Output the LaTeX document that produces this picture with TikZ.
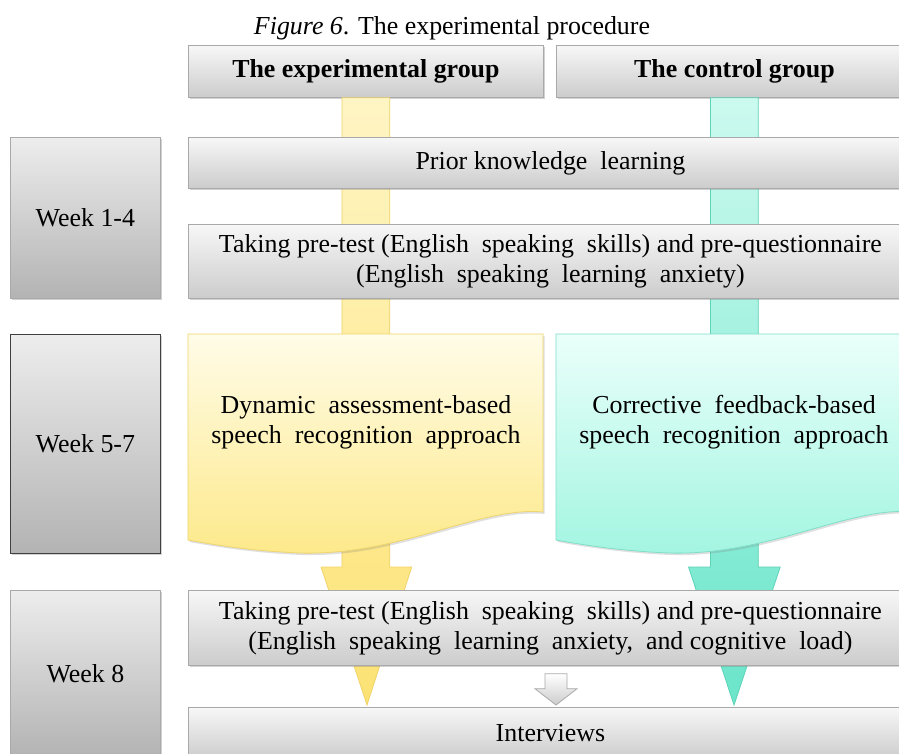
\documentclass[tikz,border=0pt]{standalone}
\usepackage{fontspec}
\setmainfont{Liberation Serif}
\setsansfont{Liberation Serif}
\newfontfamily\figserif{Liberation Serif}
\usetikzlibrary{shadows,calc}
\definecolor{bline}{HTML}{A9A9A9}
\definecolor{gtop}{HTML}{F7F7F7}
\definecolor{gbot}{HTML}{CCCCCC}
\definecolor{wtop}{HTML}{EDEDED}
\definecolor{wbot}{HTML}{B3B3B3}
\definecolor{ydtop}{HTML}{FFFCE8}
\definecolor{ydbot}{HTML}{FDE98A}
\definecolor{ydline}{HTML}{EFD56C}
\definecolor{tdtop}{HTML}{EAFFFA}
\definecolor{tdbot}{HTML}{A2F5E1}
\definecolor{tdline}{HTML}{7EDFC8}
\definecolor{yatop}{HTML}{FFF5C4}
\definecolor{yabot}{HTML}{FCE274}
\definecolor{yaline}{HTML}{F0D36A}
\definecolor{tatop}{HTML}{CCFAEF}
\definecolor{tabot}{HTML}{6AE5CA}
\definecolor{taline}{HTML}{5DD3B8}
\tikzset{
  txt/.style={font=\figserif\fontsize{26}{30}\selectfont},
  box/.style={rectangle, anchor=north west, draw=bline, line width=0.8bp,
    top color=gtop, bottom color=gbot, align=center, inner sep=0pt, txt,
    drop shadow={shadow xshift=1.5bp, shadow yshift=-2bp, opacity=0.35}},
  headbox/.style={box, font=\figserif\fontsize{26}{30}\selectfont\bfseries},
  weekbox/.style={box, top color=wtop, bottom color=wbot},
  doctext/.style={align=center, inner sep=0pt, txt},
  yarrow/.style={draw=yaline, line width=0.8bp, top color=yatop, bottom color=yabot},
  tarrow/.style={draw=taline, line width=0.8bp, top color=tatop, bottom color=tabot},
  garrow/.style={draw=bline, line width=0.8bp, top color=white, bottom color=gbot},
  ydoc/.style={draw=ydline, line width=0.8bp, top color=ydtop, bottom color=ydbot,
    drop shadow={shadow xshift=1.5bp, shadow yshift=-2bp, opacity=0.25}},
  tdoc/.style={draw=tdline, line width=0.8bp, top color=tdtop, bottom color=tdbot,
    drop shadow={shadow xshift=1.5bp, shadow yshift=-2bp, opacity=0.25}},
}
\begin{document}
\begin{tikzpicture}[x=1bp, y=1bp]
\useasboundingbox (0,0) rectangle (899,-754);
\clip (0,0) rectangle (899,-754);
\fill[white] (0,0) rectangle (899,-754);

% caption
\node[inner sep=0pt, txt] (cap) at (452,-28) {\textit{Figure 6}. The experimental procedure};

% headers
\node[headbox, minimum width=355bp, minimum height=52bp] (hexp) at (188,-45) {The experimental group};
\node[headbox, minimum width=356bp, minimum height=52bp] (hctl) at (556,-45) {The control group};

% anchors for the block arrows
\coordinate (ytip) at (367,-705);
\coordinate (ttip) at (734,-705);

% block arrows (behind the boxes)
\path[yarrow] let \p1=(hexp.south) in
  (\x1-24,\y1) -- (\x1+24,\y1) -- (\x1+24,-567) -- (\x1+46,-567) -- (ytip)
  -- (\x1-45,-567) -- (\x1-24,-567) -- cycle;
\path[tarrow] let \p1=(hctl.south) in
  (\x1-24,\y1) -- (\x1+24,\y1) -- (\x1+24,-567) -- (\x1+46,-567) -- (ttip)
  -- (\x1-46,-567) -- (\x1-24,-567) -- cycle;

% week boxes
\node[weekbox, minimum width=150bp, minimum height=161bp] (w1) at (10,-137) {Week 1-4};
\node[weekbox, draw=black!75, minimum width=150bp, minimum height=219bp] (w2) at (10,-334) {Week 5-7};
\node[weekbox, minimum width=150bp, minimum height=166bp] (w3) at (10,-590) {Week 8};

% rows of weeks 1-4
\node[box, minimum width=724bp, minimum height=51bp] (prior) at (188,-137) {Prior knowledge\ \ learning};
\node[box, minimum width=724bp, minimum height=74bp] (pre) at (188,-224)
  {Taking pre-test (English\ \ speaking\ \ skills) and pre-questionnaire\\(English\ \ speaking\ \ learning\ \ anxiety)};

% treatment documents
\path[ydoc] (188,-334) -- (543,-334) -- (543,-512)
  .. controls (480,-506) and (400,-556) .. (300,-553)
  .. controls (250,-551) and (210,-544) .. (188,-540) -- cycle;
\node[doctext] (dexp) at (366,-422) {Dynamic\ \ assessment-based\\speech\ \ recognition\ \ approach};
\path[tdoc] (556,-334) -- (912,-334) -- (912,-512)
  .. controls (849,-506) and (769,-556) .. (669,-553)
  .. controls (619,-551) and (578,-544) .. (556,-540) -- cycle;
\node[doctext] (dctl) at (734,-422) {Corrective\ \ feedback-based\\speech\ \ recognition\ \ approach};

% week 8 rows
\node[box, minimum width=724bp, minimum height=75bp] (post) at (188,-590)
  {Taking pre-test (English\ \ speaking\ \ skills) and pre-questionnaire\\(English\ \ speaking\ \ learning\ \ anxiety,\ \ and cognitive\ \ load)};
\node[box, minimum width=724bp, minimum height=52bp] (int) at (188,-707) {Interviews};

% small gray arrow between the two last rows
\path[garrow] let \p1=(post.south), \p2=(int.north) in
  (545,\y1-8) -- (567,\y1-8) -- (567,\y1-23) -- (577,\y1-23) -- (556,\y2+2)
  -- (535,\y1-23) -- (545,\y1-23) -- cycle;
\end{tikzpicture}
\end{document}
